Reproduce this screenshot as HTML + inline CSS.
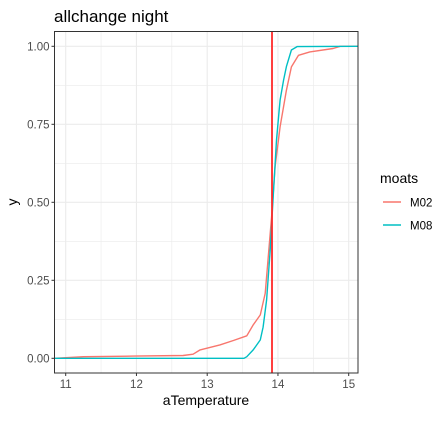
<!DOCTYPE html>
<html><head><meta charset="utf-8"><style>
body{margin:0;background:#fff;}
svg text{font-family:"Liberation Sans",Arial,sans-serif;}
</style></head><body>
<svg id="chart" width="448" height="416" xmlns="http://www.w3.org/2000/svg">
<rect x="0" y="0" width="448" height="416" fill="#fff"/>
<g id="grid"></g>
<g id="series"></g>
<rect x="54.5" y="31.5" width="303.5" height="341.5" fill="none" stroke="#333" stroke-width="1"/>
<g id="axes"></g>
<text x="54" y="22" font-size="17" fill="#000">allchange night</text>
<text x="206" y="405" font-size="14" text-anchor="middle" fill="#000">aTemperature</text>
<text x="17" y="202" font-size="14" text-anchor="middle" fill="#000" transform="rotate(-90 17 202)">y</text>
<g>
<text x="380" y="183" font-size="14" fill="#000">moats</text>
<g><line x1="383" x2="401" y1="202" y2="202" stroke="#F8766D" stroke-width="1.4"/><text x="410" y="206.5" font-size="11.5" fill="#000">M02</text></g>
<g><line x1="383" x2="401" y1="225" y2="225" stroke="#00BFC4" stroke-width="1.4"/><text x="410" y="229.5" font-size="11.5" fill="#000">M08</text></g>
</g>
</svg>
<script>
const xTicks=[11,12,13,14,15];
const yTicks=[0,0.25,0.5,0.75,1];
const yTickLabels=["0.00","0.25","0.50","0.75","1.00"];
const vlineX=13.916;
const m02X=[10.84,11.25,11.96,12.66,12.80,12.90,12.99,13.18,13.37,13.56,13.65,13.75,13.82,13.86,13.91,13.96,14.03,14.12,14.19,14.29,14.45,14.78,14.88,15.2];
const m02Y=[0,0.005,0.007,0.009,0.013,0.027,0.032,0.043,0.057,0.072,0.107,0.139,0.208,0.315,0.454,0.614,0.742,0.859,0.934,0.971,0.982,0.993,1.0,1.0];
const m08X=[10.84,13.52,13.56,13.65,13.75,13.79,13.84,13.89,13.93,13.98,14.03,14.08,14.12,14.19,14.27,15.2];
const m08Y=[0,0,0.005,0.027,0.059,0.10,0.187,0.347,0.507,0.70,0.828,0.892,0.935,0.988,0.999,1];
const NS="http://www.w3.org/2000/svg";
const X0=54.5,X1=358,Y0=31.5,Y1=373;
const sx=v=>65.7+(v-11)*70.75;
const sy=v=>358.3-v*312;
const cx=v=>Math.max(X0,Math.min(X1,sx(v)));
function mk(t,a,p){const e=document.createElementNS(NS,t);for(const k in a)e.setAttribute(k,a[k]);p.appendChild(e);return e;}
const grid=document.getElementById('grid');
const axes=document.getElementById('axes');
const series=document.getElementById('series');
for(let i=0;i<yTicks.length-1;i++){const v=(yTicks[i]+yTicks[i+1])/2;
 const l=mk('line',{x1:X0,x2:X1,y1:sy(v),y2:sy(v),stroke:'#ebebeb','stroke-width':0.6},grid);
 
 }
for(let i=0;i<xTicks.length-1;i++){const v=(xTicks[i]+xTicks[i+1])/2;
 const l=mk('line',{y1:Y0,y2:Y1,x1:sx(v),x2:sx(v),stroke:'#ebebeb','stroke-width':0.6},grid);
 
 }
yTicks.forEach((v,i)=>{
 const l=mk('line',{x1:X0,x2:X1,y1:sy(v),y2:sy(v),stroke:'#ebebeb','stroke-width':1.1},grid);
 
 
 const t=mk('line',{x1:X0-3,x2:X0,y1:sy(v),y2:sy(v),stroke:'#333','stroke-width':1},axes);
 
 
 const tx=mk('text',{x:X0-5,y:sy(v)+4,'font-size':11.5,'text-anchor':'end',fill:'#4d4d4d'},axes);
 tx.textContent=yTickLabels[i];
 
 
});
xTicks.forEach(v=>{
 const l=mk('line',{y1:Y0,y2:Y1,x1:sx(v),x2:sx(v),stroke:'#ebebeb','stroke-width':1.1},grid);
 
 
 const t=mk('line',{y1:Y1,y2:Y1+3,x1:sx(v),x2:sx(v),stroke:'#333','stroke-width':1},axes);
 
 
 const tx=mk('text',{x:sx(v),y:Y1+15,'font-size':11.5,'text-anchor':'middle',fill:'#4d4d4d'},axes);
 tx.textContent=String(v);
 
 
});
function line(xs,ys,col,name){
 const pts=xs.map((x,i)=>cx(x).toFixed(1)+','+sy(ys[i]).toFixed(1)).join(' ');
 const p=mk('polyline',{points:pts,fill:'none',stroke:col,'stroke-width':1.4,'stroke-linejoin':'round'},series);
 
 
}
line(m02X,m02Y,'#F8766D','line-m02');
line(m08X,m08Y,'#00BFC4','line-m08');
const vl=mk('line',{x1:sx(vlineX),x2:sx(vlineX),y1:Y0,y2:Y1,stroke:'#ff2a2a','stroke-width':1.8},series);


</script>
</body></html>
